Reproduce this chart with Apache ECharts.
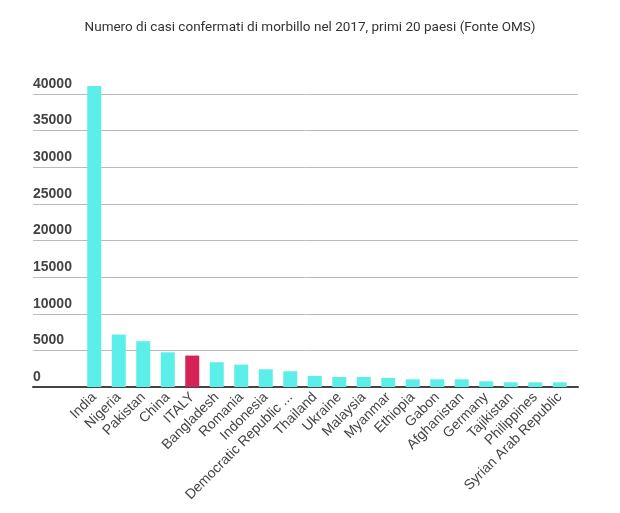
<!DOCTYPE html>
<html><head><meta charset="utf-8">
<script src="https://cdn.jsdelivr.net/npm/echarts@6/dist/echarts.min.js"></script>
<style>html,body{margin:0;padding:0;background:#fff}#c{width:620px;height:513px}</style>
</head><body><div id="c"></div>
<script>
const categories = ["India","Nigeria","Pakistan","China","ITALY","Bangladesh","Romania","Indonesia","Democratic Republic ...","Thailand","Ukraine","Malaysia","Myanmar","Ethiopia","Gabon","Afghanistan","Germany","Tajikistan","Philippines","Syrian Arab Republic"];
const cases = [41100,7160,6250,4740,4290,3380,3060,2420,2150,1500,1370,1370,1230,1050,1050,1050,780,640,640,640];
const highlight = "ITALY";
const yTicks = {min:0, max:40000, interval:5000};
const title = "Numero di casi confermati di morbillo nel 2017, primi 20 paesi (Fonte OMS)";

const chart = echarts.init(document.getElementById('c'), null, {renderer:'canvas'});
chart.setOption({
  animation:false,
  backgroundColor:'#fff',
  title:{text:title,left:'center',top:16,textStyle:{fontFamily:'Roboto',fontSize:13.5,fontWeight:'normal',color:'#333'}},
  grid:[
    {left:33,right:42,top:94,bottom:126},
    {left:82,right:48,top:94,bottom:126}
  ],
  xAxis:[
    {gridIndex:0,type:'value',min:0,max:1,axisLabel:{show:false},axisTick:{show:false},splitLine:{show:false},
     axisLine:{show:true,lineStyle:{color:'#444',width:2}}},
    {gridIndex:1,type:'category',data:categories,axisLine:{show:false},axisTick:{show:false},
     axisLabel:{interval:0,rotate:45,color:'#444',fontFamily:'Liberation Sans',fontSize:14,margin:8}}
  ],
  yAxis:[
    {gridIndex:0,type:'value',min:yTicks.min,max:yTicks.max,interval:yTicks.interval,
     axisLine:{show:false},axisTick:{show:false},
     axisLabel:{inside:true,margin:0,align:'left',verticalAlign:'bottom',padding:[0,0,3,0],color:'#444',fontFamily:'Liberation Sans',fontSize:14,fontWeight:'bold',formatter:v=>String(v)},
     splitLine:{lineStyle:{color:'#bbb',width:1}}},
    {gridIndex:1,type:'value',min:yTicks.min,max:yTicks.max,interval:yTicks.interval,show:false}
  ],
  series:[{
    type:'bar',xAxisIndex:1,yAxisIndex:1,barWidth:14,clip:false,
    data:cases.map((v,i)=>({value:v,itemStyle:{color:categories[i]===highlight?'#D72257':'#5CEEE9'}}))
  }]
});
</script></body></html>
